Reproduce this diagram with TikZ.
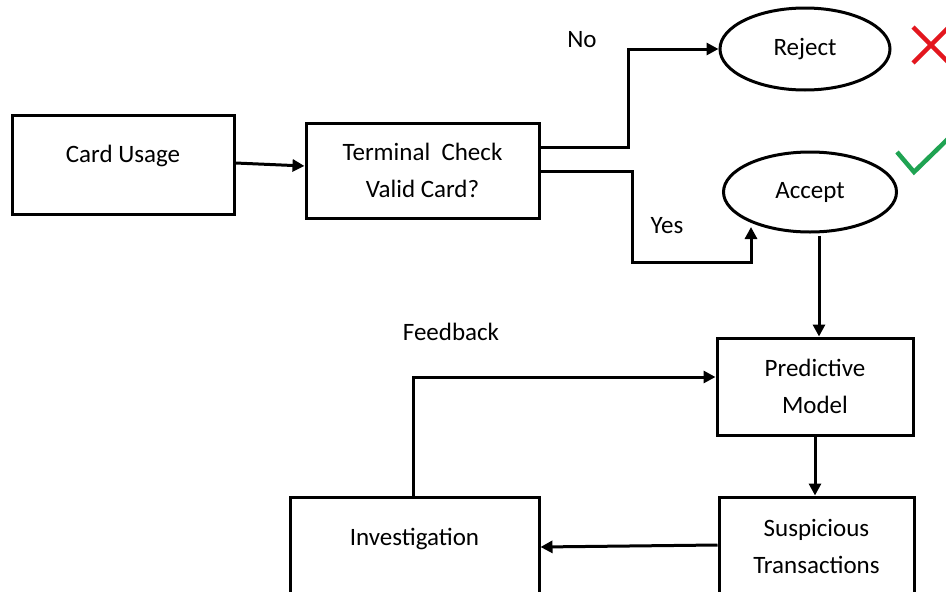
\documentclass[tikz,border=0pt]{standalone}
\usepackage{fontspec}
\setmainfont{Carlito}
\usetikzlibrary{arrows.meta,shapes.geometric}
\definecolor{xred}{HTML}{E3161E}
\definecolor{vgreen}{HTML}{1FA352}
\tikzset{
  box/.style={draw, line width=3pt, rectangle, inner sep=0pt, font=\fontsize{25}{37}\selectfont, align=center},
  oval/.style={draw, line width=3pt, ellipse, inner sep=0pt, font=\fontsize{25}{37}\selectfont},
  conn/.style={line width=3pt, -{Triangle[length=12pt,width=12pt]}},
  lbl/.style={font=\fontsize{25}{30}\selectfont, inner sep=0pt},
}
\begin{document}
\begin{tikzpicture}[x=1pt,y=-1pt]
\clip (0,0) rectangle (946,592);
\fill[white] (0,0) rectangle (946,592);
% boxes
\node[box, minimum width=222pt, minimum height=99pt] (card) at (123,164.5) {\raisebox{21pt}{Card Usage}};
\node[box, minimum width=233pt, minimum height=95pt] (term) at (422.5,170.5) {Terminal\ \ Check\\Valid Card?};
\node[oval, minimum width=170pt, minimum height=82pt] (rej) at (805,49) {Reject};
\node[oval, minimum width=173pt, minimum height=80pt] (acc) at (810,192) {Accept};
\node[box, minimum width=196pt, minimum height=97pt] (pred) at (815,386.5) {Predictive\\Model};
\node[box, minimum width=195pt, minimum height=98pt] (susp) at (816.5,546) {Suspicious\\Transactions};
\node[box, minimum width=249pt, minimum height=106pt] (inv) at (414.5,550) {\raisebox{26pt}{Investigation}};
% labels
\node[lbl] (no) at (582,40) {No};
\node[lbl] (yes) at (667,226) {Yes};
\node[lbl] (fb) at (451,332) {Feedback};
% connectors
\draw[conn] (card.east |- 0,163) -- (term.west |- 0,166);
\draw[conn] (term.east |- 0,147) -| (628,49) -- (rej.west);
\draw[conn] (term.east |- 0,171) -| (632,262) -| (751,227);
\draw[conn] (acc.south -| 819,0) ++(0,2) -- (pred.north -| 819,0);
\draw[conn] (pred.south) -- (susp.north -| pred.south);
\draw[conn] (susp.west |- 0,545) -- (inv.east |- 0,547);
\draw[conn] (inv.north -| 413,0) |- (pred.west |- 0,377);
% marks
\draw[xred, line width=4.5pt] (913,27) -- (949,63);
\draw[xred, line width=4.5pt] (913,63) -- (949,27);
\draw[vgreen, line width=4.5pt] (897,152) -- (914,172) -- (952,135);
\end{tikzpicture}
\end{document}
